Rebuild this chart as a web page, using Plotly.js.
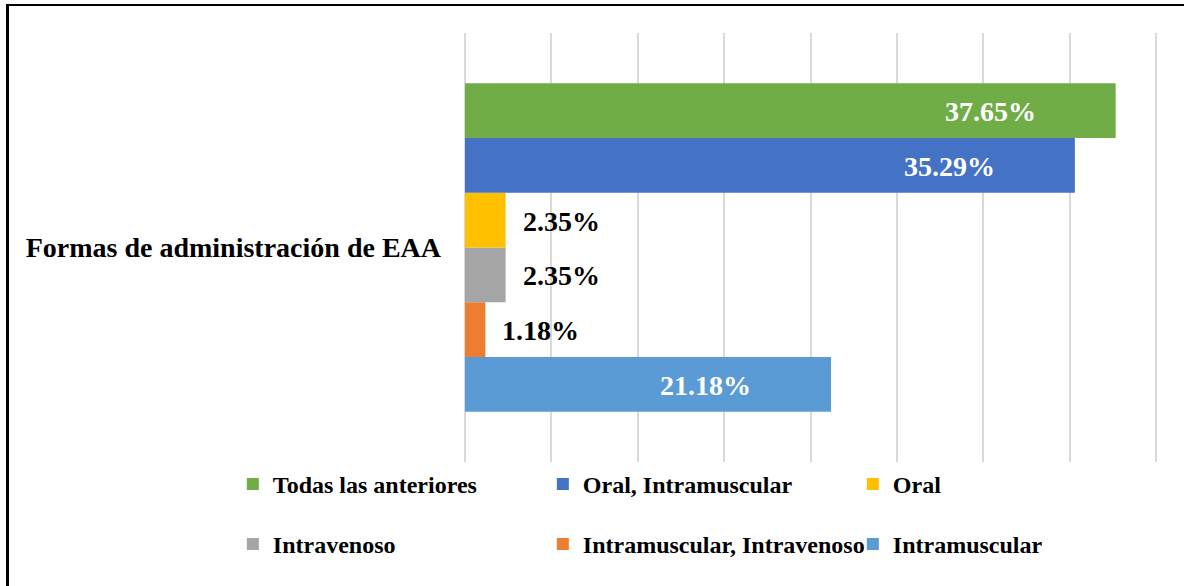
<!DOCTYPE html>
<html>
<head>
<meta charset="utf-8">
<script src="https://cdn.plot.ly/plotly-3.0.1.min.js"></script>
<style>
  html, body { margin: 0; padding: 0; background: #fff; overflow: hidden; }
  #chart { width: 1184px; height: 586px; position: absolute; left: 0; top: 0; }
  #frame { position: absolute; left: 6px; top: 4px; width: 1300px; height: 700px;
           border-left: 3px solid #000; border-top: 2.5px solid #000; pointer-events: none; }
</style>
</head>
<body>
<div id="chart"></div>
<div id="frame"></div>
<script>
// ---- data ----
const categories = ['Formas de administración de EAA'];
const seriesNames = ['Intramuscular', 'Intramuscular, Intravenoso', 'Intravenoso', 'Oral', 'Oral, Intramuscular', 'Todas las anteriores'];
const seriesValues = [21.18, 1.18, 2.35, 2.35, 35.29, 37.65];
const seriesColors = ['#5B9BD5', '#ED7D31', '#A5A5A5', '#FFC000', '#4472C4', '#70AD47'];
const legendRow = ['legend2', 'legend2', 'legend2', 'legend', 'legend', 'legend'];

const FONT = 'Liberation Serif, Times New Roman, serif';
const BARGAP = 0.234;
const INSIDE_MIN = 10;

const traces = seriesNames.map((name, i) => ({
  type: 'bar',
  orientation: 'h',
  name: name,
  x: [seriesValues[i]],
  y: [0],
  marker: { color: seriesColors[i], line: { width: 0 } },
  legend: legendRow[i],
  hoverinfo: 'name+x'
}));

// label annotations positioned through the axes (group offsets from bargap)
const n = seriesNames.length;
const groupW = 1 - BARGAP;
const annotations = seriesValues.map((v, i) => {
  const yc = -groupW / 2 + (i + 0.5) * groupW / n;
  const inside = v > INSIDE_MIN;
  return {
    x: v, y: yc, xref: 'x', yref: 'y',
    text: v.toFixed(2) + '%',
    showarrow: false,
    xanchor: inside ? 'right' : 'left',
    yanchor: 'middle',
    yshift: -1,
    xshift: inside ? -78 : 15,
    font: { family: FONT, size: 28, weight: 'bold', color: inside ? '#ffffff' : '#000000' }
  };
});

const legendCommon = {
  orientation: 'h',
  traceorder: 'reversed',
  xanchor: 'left',
  yanchor: 'middle',
  x: -0.335,
  entrywidth: 265,
  entrywidthmode: 'pixels',
  bgcolor: 'rgba(0,0,0,0)',
  font: { family: FONT, size: 24, weight: 'bold', color: '#000' }
};

const layout = {
  width: 1184,
  height: 586,
  margin: { l: 465, r: 26, t: 33, b: 124 },
  paper_bgcolor: '#ffffff',
  plot_bgcolor: '#ffffff',
  barmode: 'group',
  bargap: BARGAP,
  bargroupgap: 0,
  showlegend: true,
  legend: Object.assign({}, legendCommon, { y: -0.052 }),
  legend2: Object.assign({}, legendCommon, { y: -0.192 }),
  xaxis: {
    range: [0, 40.1],
    dtick: 5,
    tick0: 0,
    showticklabels: false,
    ticks: '',
    showgrid: true,
    gridcolor: '#d9d9d9',
    gridwidth: 2,
    zeroline: true,
    zerolinecolor: '#d9d9d9',
    zerolinewidth: 2,
    showline: false,
    fixedrange: true
  },
  yaxis: {
    range: [-0.5, 0.5],
    tickmode: 'array',
    tickvals: [0],
    ticktext: categories,
    ticks: '',
    ticklabelstandoff: 23,
    showgrid: false,
    zeroline: false,
    showline: false,
    tickfont: { family: FONT, size: 28, weight: 'bold', color: '#000' },
    fixedrange: true
  },
  annotations: annotations,
  font: { family: FONT }
};

Plotly.newPlot('chart', traces, layout, { displayModeBar: false, staticPlot: true });
</script>
</body>
</html>
